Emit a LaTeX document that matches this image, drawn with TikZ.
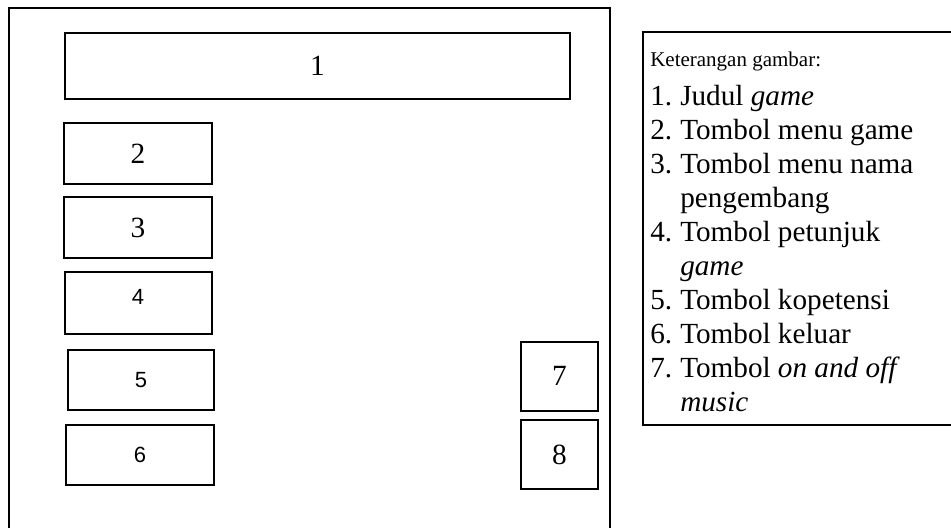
\documentclass[tikz,border=0pt]{standalone}
\usepackage{fontspec}
\setmainfont{Liberation Serif}
\newfontfamily\arialf{Liberation Sans}
\begin{document}
\begin{tikzpicture}[x=0.75pt,y=-0.75pt,
  thickbox/.style={draw=black,line width=1.5pt,rectangle,inner sep=0pt,font=\fontsize{22}{26}\selectfont},
  thinbox/.style={draw=black,line width=1pt,rectangle,inner sep=0pt,font=\arialf\fontsize{16.5}{20}\selectfont},
  sanslab/.style={inner sep=0pt,font=\arialf\fontsize{16.5}{20}\selectfont},
  legline/.style={anchor=base west,inner sep=0pt,font=\fontsize{21.9}{26}\selectfont},
  leghead/.style={anchor=base west,inner sep=0pt,font=\fontsize{15.75}{19}\selectfont},
  frame/.style={draw=black,line width=1.5pt},
  legframe/.style={draw=black,line width=1.2pt}]
\useasboundingbox (0,0) rectangle (951,528);
\clip (0,0) rectangle (951,528);
\fill[white] (0,0) rectangle (951,528);
% outer frame (bottom open)
\draw[frame] (9,540) -- (9,8) -- (610,8) -- (610,540);
% boxes
\node[thickbox,minimum width=378.75pt,minimum height=49.5pt] (b1) at (317.5,66) {1};
\node[thickbox,minimum width=111pt,minimum height=45.75pt] (b2) at (138,153.5) {2};
\node[thickbox,minimum width=111pt,minimum height=45.75pt] (b3) at (138,227.5) {3};
\node[thinbox,minimum width=110.25pt,minimum height=46.5pt] (b4) at (138.5,303) {};
\node[sanslab] (l4) at (138,297) {4};
\node[thinbox,minimum width=109.5pt,minimum height=45pt] (b5) at (141,380) {5};
\node[thinbox,minimum width=111pt,minimum height=45pt] (b6) at (140,455) {6};
\node[thickbox,minimum width=57.75pt,minimum height=51.75pt] (b7) at (559.5,376) {7};
\node[thickbox,minimum width=57.75pt,minimum height=51.75pt] (b8) at (559.5,454.5) {8};
% legend frame (right side beyond the picture)
\draw[legframe] (970,32) -- (643,32) -- (643,425) -- (970,425);
\node[leghead] (h) at (650,67) {Keterangan gambar:};
\node[legline] (i1) at (650,106) {\makebox[22.5pt][l]{1.}Judul \textit{game}};
\node[legline] (i2) at (650,139.9) {\makebox[22.5pt][l]{2.}Tombol menu game};
\node[legline] (i3) at (650,173.8) {\makebox[22.5pt][l]{3.}Tombol menu nama};
\node[legline] (i3b) at (650,207.7) {\makebox[22.5pt][l]{}pengembang};
\node[legline] (i4) at (650,241.6) {\makebox[22.5pt][l]{4.}Tombol petunjuk};
\node[legline] (i4b) at (650,275.5) {\makebox[22.5pt][l]{}\textit{game}};
\node[legline] (i5) at (650,309.4) {\makebox[22.5pt][l]{5.}Tombol kopetensi};
\node[legline] (i6) at (650,343.3) {\makebox[22.5pt][l]{6.}Tombol keluar};
\node[legline] (i7) at (650,377.2) {\makebox[22.5pt][l]{7.}Tombol \textit{on and off}};
\node[legline] (i7b) at (650,411.1) {\makebox[22.5pt][l]{}\textit{music}};
\end{tikzpicture}
\end{document}
